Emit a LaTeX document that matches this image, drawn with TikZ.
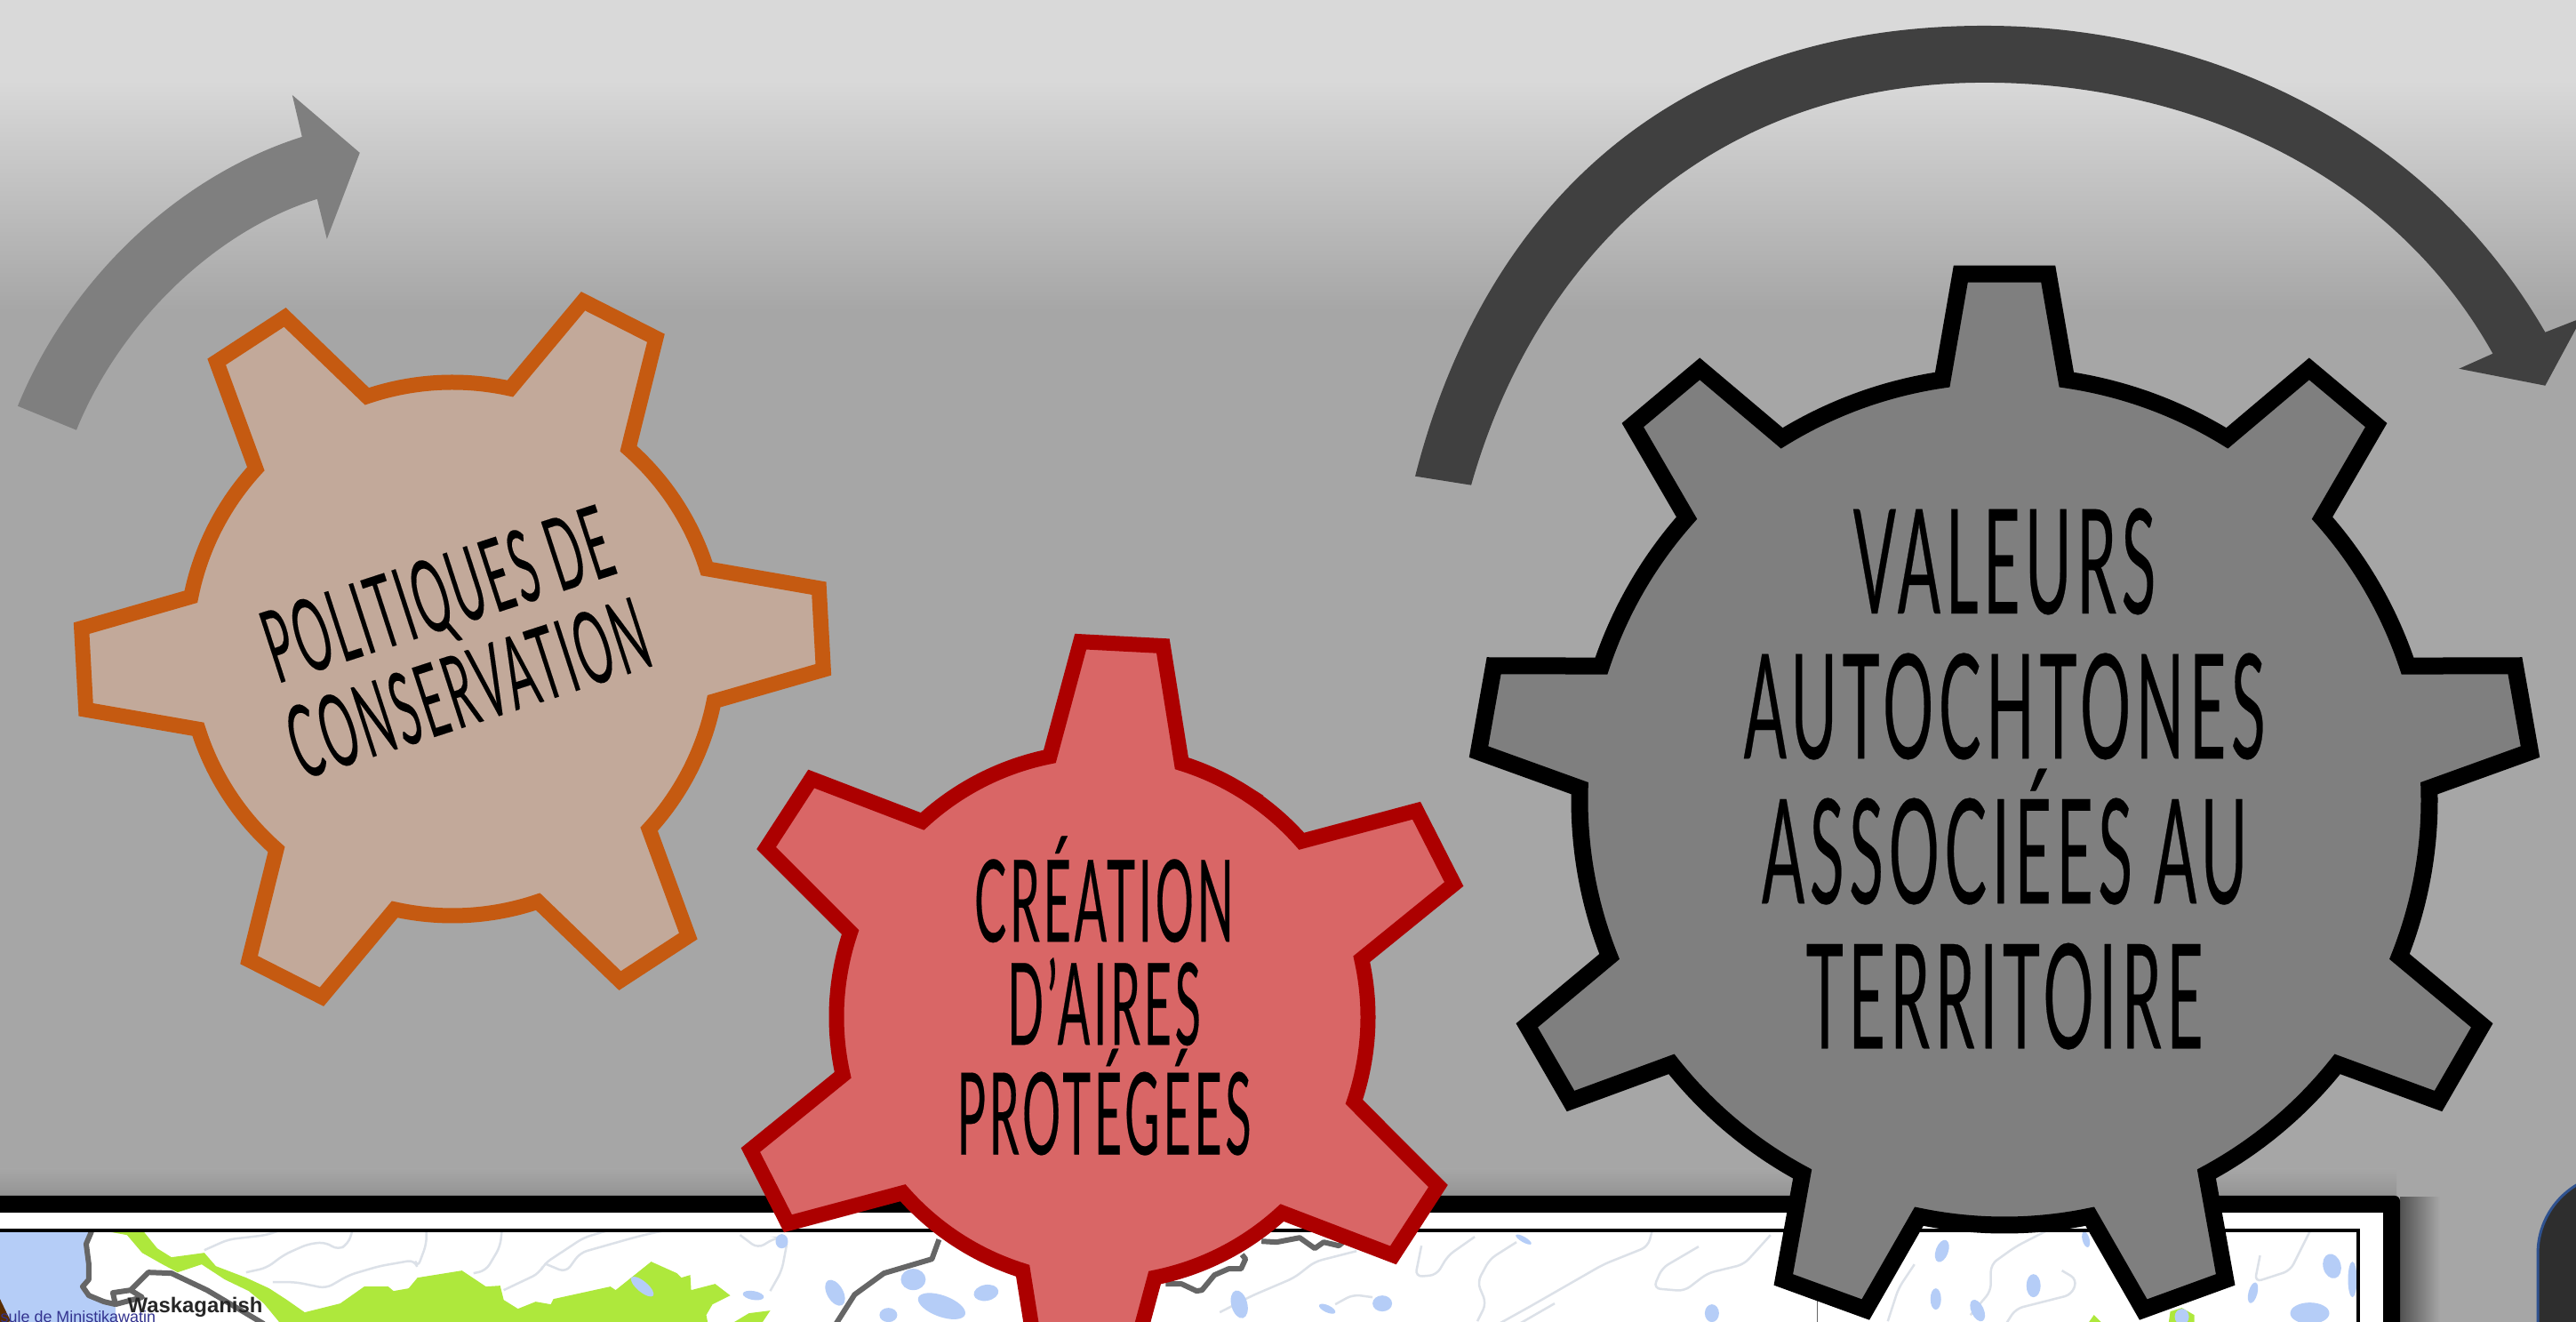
\documentclass[tikz,border=0pt]{standalone}
\usepackage{fontspec}
\setmainfont{Liberation Sans}
\newfontfamily\bigfont[FakeStretch=0.435,LetterSpace=3.5,FakeBold=0.15]{Lato}
\newfontfamily\redfont[FakeStretch=0.42,LetterSpace=3,FakeBold=0.15]{Lato}
\newfontfamily\orangefont[FakeStretch=0.44,LetterSpace=3,FakeBold=0.1]{Lato}

\definecolor{bgtop}{HTML}{D9D9D9}
\definecolor{bgmid}{HTML}{A6A6A6}
\definecolor{gearorange}{HTML}{C55A11}
\definecolor{fillorange}{HTML}{C2A99A}
\definecolor{gearred}{HTML}{AC0000}
\definecolor{fillred}{HTML}{D96666}
\definecolor{fillgrey}{HTML}{7F7F7F}
\definecolor{arrowdark}{HTML}{404040}
\definecolor{lakeblue}{HTML}{B5CDF7}
\definecolor{mapgreen}{HTML}{AEE83C}
\definecolor{riverlight}{HTML}{DCE1E8}
\definecolor{panelblue}{HTML}{2F528F}

\tikzset{
    pxgrid/.style={x=0.01cm,y=-0.01cm,yshift=14.87cm},
    riverline/.style={draw=riverlight,line width=0.025cm,rounded corners=0.08cm},
    roadline/.style={draw=black!60,line width=0.06cm,line join=round},
    gearline/.style={line join=miter,miter limit=6},
}

% style, centre, rotation, teeth, body radius, tip radius, half root angle, half tip angle
\newcommand{\drawgear}[8]{
    \begin{scope}[shift={#2}]
        \draw[gearline,#1] ({#3-180/#4}:#5)
            \foreach \i in {1,...,#4}{
                arc[start angle={#3+(\i-1)*360/#4-180/#4},delta angle={180/#4-#7},radius=#5cm]
                -- ({#3+(\i-1)*360/#4-#8}:#6)
                -- ({#3+(\i-1)*360/#4+#8}:#6)
                -- ({#3+(\i-1)*360/#4+#7}:#5)
                arc[start angle={#3+(\i-1)*360/#4+#7},delta angle={180/#4-#7},radius=#5cm]
            } -- cycle;
    \end{scope}
}
\newcommand{\lakeblob}[5]{\fill[lakeblue,rotate around={#5:(#1,#2)}] (#1,#2) ellipse [x radius=#3,y radius=#4];}

\begin{document}
\begin{tikzpicture}
    \useasboundingbox (0,0) rectangle (28.98,14.87);
    \clip (0,0) rectangle (28.98,14.87);

    % background
    \fill[bgmid] (0,0) rectangle (28.98,14.87);
    \shade[top color=bgtop,bottom color=bgmid] (0,11.37) rectangle (28.98,13.97);
    \fill[bgtop] (0,13.97) rectangle (28.98,14.87);
    \shade[top color=bgmid,bottom color=black!42] (0,1.72) rectangle (26.96,1.42);

    % picture frame and its shadow
    \shade[left color=black!68,right color=bgmid] (27.00,0) rectangle (27.45,1.40);
    \fill[black,rounded corners=0.06cm] (-0.3,-0.3) rectangle (27.00,1.42);
    \fill[white] (-0.3,-0.3) rectangle (26.81,1.23);

    % map
    \begin{scope}
        \clip (-0.1,-0.1) rectangle (26.53,1.03);
        \begin{scope}[pxgrid]
            % sea
            \fill[lakeblue] (0,1380) -- (103,1380) -- (97,1400) -- (100,1440) -- (93,1448) -- (100,1458) -- (130,1468) -- (130,1490) -- (0,1490) -- cycle;
            \fill[black!65!orange] (0,1462) -- (12,1487) -- (0,1490) -- cycle;
            % green strip and park
            \fill[mapgreen] (110,1384) -- (160,1384) -- (177,1405) -- (193,1415) -- (230,1410) -- (243,1425) -- (277,1438) -- (303,1450) -- (323,1463) -- (343,1477) -- (383,1467) -- (410,1448) -- (437,1448) -- (443,1453) -- (460,1450) -- (470,1438) -- (520,1430) -- (547,1448) -- (563,1447) -- (567,1463) -- (583,1473) -- (603,1465) -- (620,1468) -- (623,1462) -- (687,1448) -- (693,1452) -- (733,1420) -- (762,1433) -- (767,1438) -- (777,1435) -- (778,1452) -- (805,1445) -- (822,1458) -- (802,1468) -- (795,1480) -- (797,1490) -- (316,1490) -- (297,1467) -- (280,1453) -- (253,1440) -- (227,1423) -- (200,1432) -- (183,1423) -- (160,1410) -- (143,1390) -- cycle;
            \fill[mapgreen] (823,1490) -- (843,1478) -- (867,1475) -- (857,1490) -- cycle;
            \fill[mapgreen] (2350,1490) -- (2357,1480) -- (2367,1490) -- cycle;
            \fill[mapgreen] (2441,1490) -- (2443,1476) -- (2456,1472) -- (2470,1480) -- (2470,1490) -- cycle;
            % rivers
            \draw[riverline] (230,1407) -- (257,1395) -- (300,1390) -- (317,1384);
            \draw[riverline] (277,1432) -- (300,1427) -- (320,1412) -- (347,1400) -- (367,1398) -- (380,1407) -- (392,1400) -- (397,1384);
            \draw[riverline] (307,1443) -- (333,1443) -- (367,1450) -- (393,1435) -- (427,1425) -- (467,1418) -- (470,1427) -- (480,1400) -- (480,1384);
            \draw[riverline] (533,1433) -- (547,1430) -- (563,1403) -- (565,1384);
            \draw[riverline] (567,1452) -- (607,1433) -- (613,1422) -- (657,1393) -- (687,1384);
            \draw[riverline] (613,1422) -- (637,1432) -- (653,1410) -- (713,1393) -- (733,1388) -- (753,1384);
            \draw[riverline] (833,1390) -- (853,1405) -- (873,1393) -- (887,1393) -- (880,1430) -- (867,1453);
            \draw[riverline] (1373,1477) -- (1410,1458) -- (1457,1438) -- (1480,1420) -- (1527,1408);
            \draw[riverline] (1503,1468) -- (1523,1457) -- (1545,1460);
            \draw[riverline] (1600,1402) -- (1593,1437) -- (1617,1435) -- (1630,1413) -- (1660,1392);
            \draw[riverline] (1663,1487) -- (1673,1467) -- (1663,1443) -- (1677,1417) -- (1707,1398);
            \draw[riverline] (1710,1490) -- (1750,1467);
            \draw[riverline] (1860,1384) -- (1855,1403) -- (1805,1423) -- (1723,1470) -- (1687,1490);
            \draw[riverline] (1912,1403) -- (1871,1427) -- (1861,1450) -- (1896,1453) -- (1922,1433) -- (1963,1423) -- (1993,1390);
            \draw[riverline] (2306,1384) -- (2269,1403) -- (2241,1423) -- (2241,1453) -- (2218,1480);
            \draw[riverline] (2155,1423) -- (2137,1450) -- (2125,1487);
            \draw[riverline] (2321,1430) -- (2338,1440) -- (2332,1457) -- (2269,1473) -- (2258,1490);
            \draw[riverline] (2544,1413) -- (2538,1443) -- (2578,1430) -- (2601,1384);
            % lakes
            \lakeblob{723}{1448}{16}{6}{-40}
            \lakeblob{880}{1397}{7}{8}{0}
            \lakeblob{848}{1458}{12}{5}{-10}
            \lakeblob{940}{1455}{9}{16}{30}
            \lakeblob{1028}{1440}{14}{12}{0}
            \lakeblob{1060}{1470}{28}{12}{-20}
            \lakeblob{1110}{1455}{14}{9}{10}
            \lakeblob{1000}{1480}{10}{8}{0}
            \lakeblob{1395}{1468}{9}{16}{15}
            \lakeblob{1494}{1473}{10}{4}{-25}
            \lakeblob{1556}{1467}{11}{9}{0}
            \lakeblob{1715}{1395}{10}{3}{-30}
            \lakeblob{1927}{1478}{8}{10}{0}
            \lakeblob{2186}{1408}{7}{13}{-20}
            \lakeblob{2179}{1462}{6}{12}{0}
            \lakeblob{2289}{1447}{8}{13}{0}
            \lakeblob{2226}{1475}{7}{13}{25}
            \lakeblob{2348}{1395}{4}{9}{15}
            \lakeblob{2456}{1482}{8}{9}{0}
            \lakeblob{2536}{1455}{5}{12}{-15}
            \lakeblob{2600}{1478}{22}{12}{0}
            \lakeblob{2625}{1425}{10}{14}{15}
            \lakeblob{2648}{1440}{5}{20}{0}
            % roads
            \draw[roadline] (103,1386) -- (97,1400) -- (100,1423) -- (100,1440) -- (93,1448) -- (100,1458) -- (117,1465) -- (130,1468) -- (127,1455) -- (147,1452) -- (167,1432) -- (193,1433) -- (233,1452) -- (260,1468) -- (297,1490);
            \draw[roadline] (130,1468) -- (160,1460) -- (147,1452);
            \draw[roadline] (1057,1395) -- (1049,1417) -- (995,1433) -- (962,1457) -- (941,1490);
            \draw[roadline] (1312,1445) -- (1330,1445) -- (1347,1453) -- (1353,1452) -- (1367,1435) -- (1383,1428) -- (1397,1428) -- (1402,1417) -- (1398,1412);
            \draw[roadline] (1420,1397) -- (1437,1398) -- (1463,1393) -- (1480,1405) -- (1490,1398) -- (1507,1402) -- (1513,1397);
            \draw[black!60,line width=0.01cm] (2046,1386) -- (2046,1490);
            % place names
            \node[anchor=west,inner sep=0pt,text=black!40!blue!60!gray,font=\fontsize{5.1}{6}\selectfont] (peninsule) at (0,1482) {sule de Ministikawatin};
            \node[anchor=west,inner sep=0pt,text=black!85,font=\bfseries\fontsize{6.8}{8}\selectfont] (waskaganish) at (143,1471) {Waskaganish};
        \end{scope}
    \end{scope}
    \draw[black,line width=0.04cm] (-0.3,-0.3) rectangle (26.53,1.03);

    % dark panel on the right
    \draw[panelblue,fill=black!82,line width=0.03cm,rounded corners=0.9cm] (28.55,-1) rectangle (30.5,1.67);

    % arrows
    \begin{scope}[pxgrid]
        \fill[fillgrey] (20,457) .. controls (77,317) and (198,199) .. (340,154) -- (329,107) -- (405,172) -- (368,269) -- (357,224) .. controls (238,261) and (133,368) .. (86,484) -- cycle;
        \fill[arrowdark] (1593,536) .. controls (1662,264) and (1854,29) .. (2234,29)
            .. controls (2480,29) and (2730,140) .. (2865,374)
            -- (2906,358) -- (2865,434) -- (2768,415) -- (2806,398)
            .. controls (2690,190) and (2459,93) .. (2234,93)
            .. controls (1924,93) and (1728,292) .. (1656,546) -- cycle;
    \end{scope}

    % gears
    \drawgear{draw=gearorange,fill=fillorange,line width=0.17cm}{(5.09,7.57)}{3.1}{6}{3.00}{4.18}{14.4}{6.3}
    \drawgear{draw=gearred,fill=fillred,line width=0.17cm}{(12.40,3.43)}{87}{6}{2.99}{4.23}{14.4}{6.3}
    \drawgear{draw=black,fill=fillgrey,line width=0.19cm}{(22.55,5.87)}{90}{9}{4.78}{5.94}{8.4}{4.75}

    % labels
    \node[align=center,rotate=18,inner sep=0pt,font=\orangefont\fontsize{32.4}{31.7}\selectfont] (conservation) at (5.09,7.66) {POLITIQUES DE\\CONSERVATION};
    \node[align=center,inner sep=0pt,font=\redfont\fontsize{36.5}{33}\selectfont] (creation) at (12.42,3.67) {CRÉATION\\D’AIRES\\PROTÉGÉES};
    \node[align=center,inner sep=0pt,font=\bigfont\fontsize{46.6}{46.4}\selectfont] (valeurs) at (22.55,6.11) {VALEURS\\AUTOCHTONES\\ASSOCIÉES AU\\TERRITOIRE};
\end{tikzpicture}
\end{document}
